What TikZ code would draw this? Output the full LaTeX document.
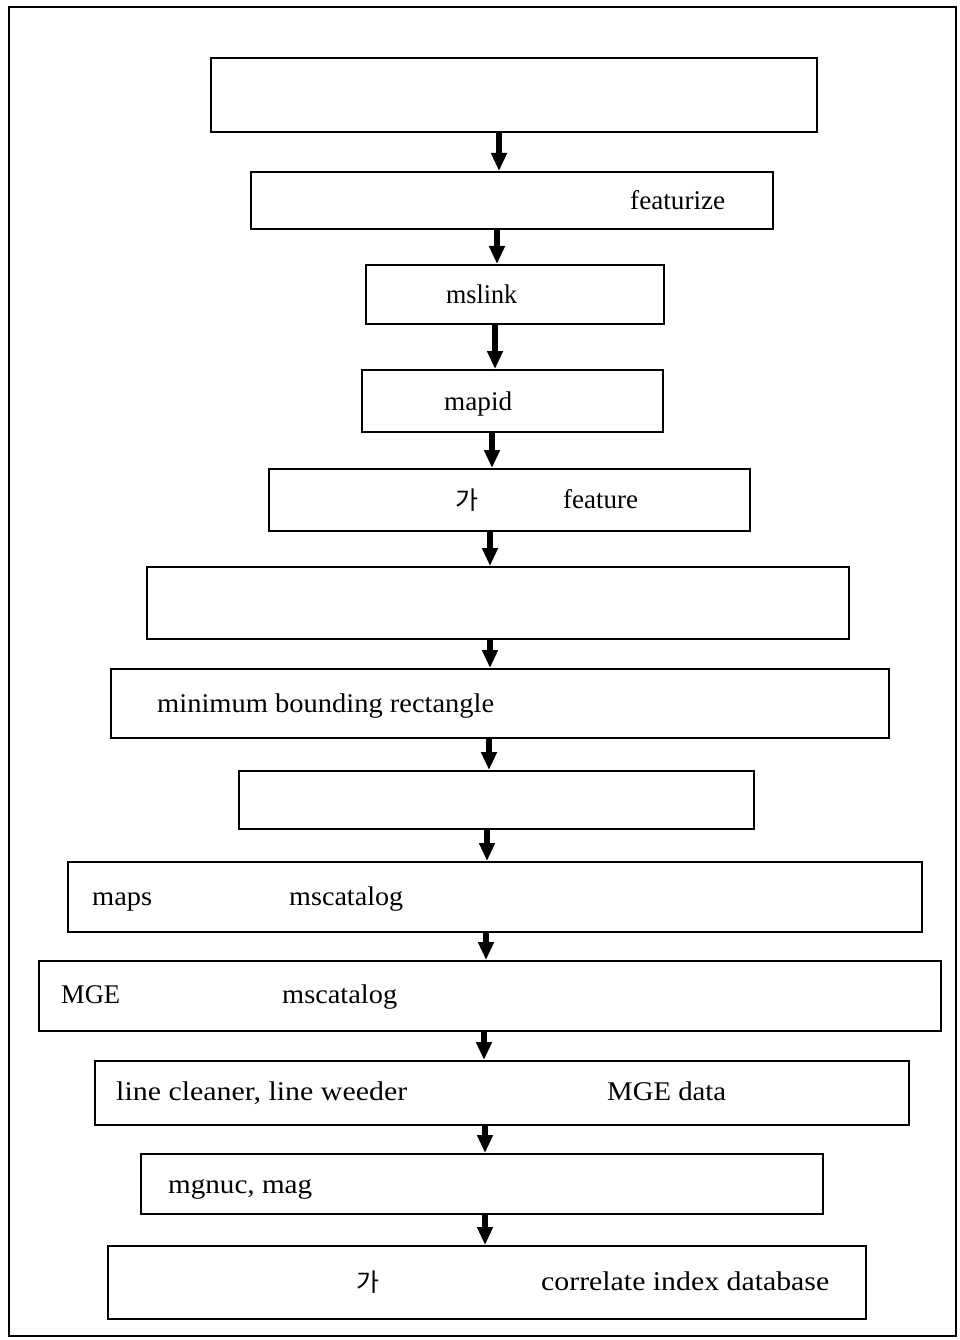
\documentclass[tikz,border=0pt]{standalone}
\usepackage{fontspec}
\usepackage{graphicx}
\setmainfont{Liberation Serif}
\newfontfamily\krfont{Noto Sans CJK KR}
\usetikzlibrary{arrows.meta}
\newcommand\fitw[2]{\resizebox{#1pt}{1.08\height}{#2}}
\begin{document}
\begin{tikzpicture}[x=1pt,y=-1pt,
  box/.style={draw,line width=1.9pt,inner sep=0pt,anchor=north west},
  lbl/.style={anchor=base west,inner sep=0pt,font=\fontsize{25}{28}\selectfont},
  krl/.style={anchor=base west,inner sep=0pt,font=\krfont\fontsize{25}{28}\selectfont},
  arr/.style={line width=6pt,-{Triangle[width=15pt,length=18pt]}}]
\useasboundingbox (0,0) rectangle (959,1340);
\draw[line width=2.4pt] (9,7) rectangle (956,1336);
% boxes
\node[box,minimum width=606pt,minimum height=74pt] (b1) at (210,57) {};
\node[box,minimum width=522pt,minimum height=57pt] (b2) at (250,171) {};
\node[box,minimum width=298pt,minimum height=59pt] (b3) at (365,264) {};
\node[box,minimum width=301pt,minimum height=62pt] (b4) at (361,369) {};
\node[box,minimum width=481pt,minimum height=62pt] (b5) at (268,468) {};
\node[box,minimum width=702pt,minimum height=72pt] (b6) at (146,566) {};
\node[box,minimum width=778pt,minimum height=69pt] (b7) at (110,668) {};
\node[box,minimum width=515pt,minimum height=58pt] (b8) at (238,770) {};
\node[box,minimum width=854pt,minimum height=70pt] (b9) at (67,861) {};
\node[box,minimum width=902pt,minimum height=70pt] (b10) at (38,960) {};
\node[box,minimum width=814pt,minimum height=64pt] (b11) at (94,1060) {};
\node[box,minimum width=682pt,minimum height=60pt] (b12) at (140,1153) {};
\node[box,minimum width=758pt,minimum height=73pt] (b13) at (107,1245) {};
% labels
\node[lbl] (t2) at (630,210) {\fitw{95}{featurize}};
\node[lbl] (t3) at (446,303) {\fitw{71}{mslink}};
\node[lbl] (t4) at (444,410) {\fitw{68}{mapid}};
\node[krl] (t5a) at (455,509) {가};
\node[lbl] (t5b) at (563,508) {\fitw{75}{feature}};
\node[lbl] (t7) at (157,712) {\fitw{337}{minimum bounding rectangle}};
\node[lbl] (t9a) at (92,905) {\fitw{60}{maps}};
\node[lbl] (t9b) at (289,905) {\fitw{114}{mscatalog}};
\node[lbl] (t10a) at (61,1003) {\fitw{59}{MGE}};
\node[lbl] (t10b) at (282,1003) {\fitw{115}{mscatalog}};
\node[lbl] (t11a) at (116,1100) {\fitw{291}{line cleaner, line weeder}};
\node[lbl] (t11b) at (607,1100) {\fitw{119}{MGE data}};
\node[lbl] (t12) at (168,1193) {\fitw{144}{mgnuc, mag}};
\node[krl] (t13a) at (356,1291) {가};
\node[lbl] (t13b) at (541,1290) {\fitw{288}{correlate index database}};
% arrows
\draw[arr] (b1.south -| 499,0) -- (b2.north -| 499,0);
\draw[arr] (b2.south -| 497,0) -- (b3.north -| 497,0);
\draw[arr] (b3.south -| 495,0) -- (b4.north -| 495,0);
\draw[arr] (b4.south -| 492,0) -- (b5.north -| 492,0);
\draw[arr] (b5.south -| 490,0) -- (b6.north -| 490,0);
\draw[arr] (b6.south -| 490,0) -- (b7.north -| 490,0);
\draw[arr] (b7.south -| 489,0) -- (b8.north -| 489,0);
\draw[arr] (b8.south -| 487,0) -- (b9.north -| 487,0);
\draw[arr] (b9.south -| 486,0) -- (b10.north -| 486,0);
\draw[arr] (b10.south -| 484,0) -- (b11.north -| 484,0);
\draw[arr] (b11.south -| 485,0) -- (b12.north -| 485,0);
\draw[arr] (b12.south -| 485,0) -- (b13.north -| 485,0);
\end{tikzpicture}
\end{document}
